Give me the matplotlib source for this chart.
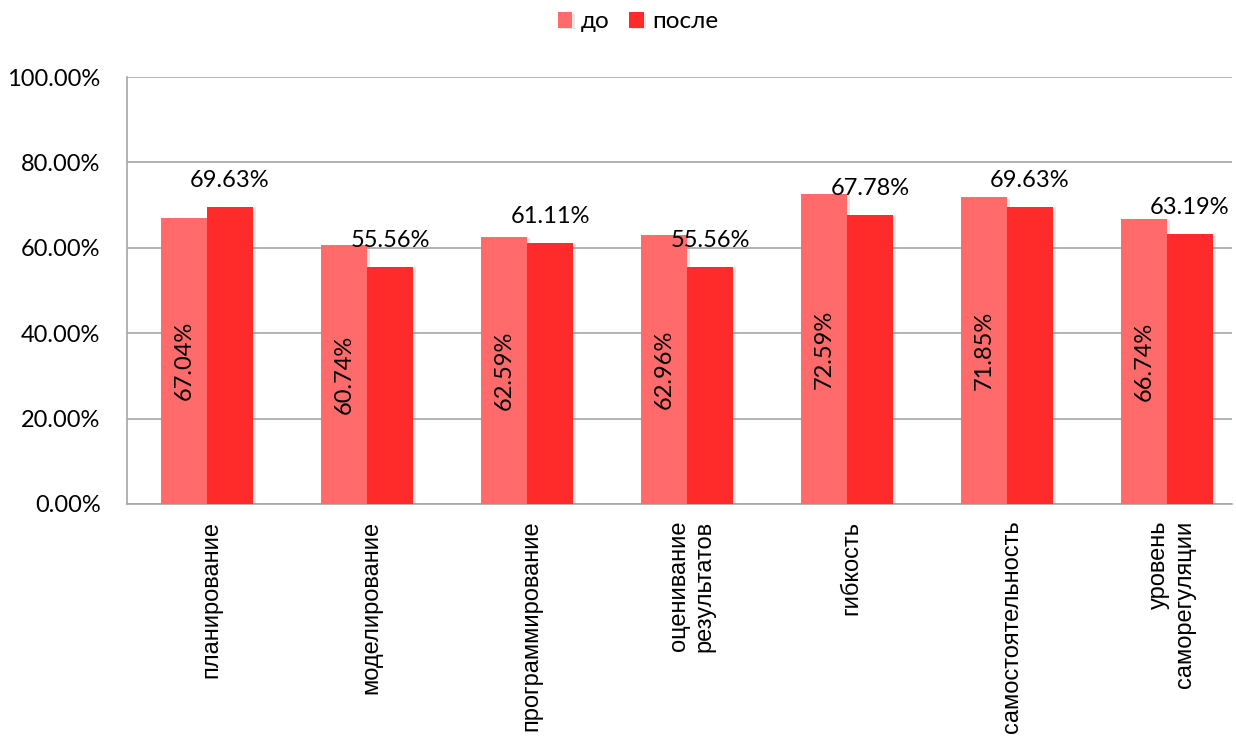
import matplotlib
matplotlib.use("Agg")
import matplotlib.pyplot as plt
import matplotlib.patheffects as pe
import numpy as np

categories = ["планирование", "моделирование", "программирование",
              "оценивание\nрезультатов", "гибкость", "самостоятельность",
              "уровень\nсаморегуляции"]
before = [67.04, 60.74, 62.59, 62.96, 72.59, 71.85, 66.74]
after = [69.63, 55.56, 61.11, 55.56, 67.78, 69.63, 63.19]
series_names = ["до", "после"]
yticks = [0, 20, 40, 60, 80, 100]

c_before = "#FF6B6B"
c_after = "#FF2A2A"
FONT = "Lato"
FS = 17

W, H = 1236, 745
fig = plt.figure(figsize=(W / 100, H / 100), dpi=100)
ax = fig.add_axes([127 / W, 1 - 504 / H, (1232 - 127) / W, (504 - 77) / H])

x = np.arange(len(categories))
bw = 46 / 160
shadow = [pe.SimplePatchShadow(offset=(2, -1), alpha=0.2, shadow_rgbFace="gray"), pe.Normal()]
b1 = ax.bar(x - bw / 2, before, bw, color=c_before, label=series_names[0], zorder=3,
            path_effects=shadow)
b2 = ax.bar(x + bw / 2, after, bw, color=c_after, label=series_names[1], zorder=3,
            path_effects=shadow)

ax.set_ylim(0, 100)
ax.set_xlim(-0.5, 6.5 - 15 / 160)
ax.set_yticks(yticks)
ax.set_yticklabels([f"{v:.2f}%" for v in yticks], fontsize=FS, family=FONT)
ax.yaxis.grid(True, color="#A6A6A6", linewidth=1.2, zorder=0)
ax.set_axisbelow(True)
ax.tick_params(axis="y", length=0, pad=19)
ax.tick_params(axis="x", length=0, pad=12)
for s in ["top", "right"]:
    ax.spines[s].set_visible(False)
for s in ["left", "bottom"]:
    ax.spines[s].set_color("#A6A6A6")
    ax.spines[s].set_linewidth(1.2)

ax.set_xticks(x + 0.03)
ax.set_xticklabels(categories, rotation=90, va="top", ha="center",
                   multialignment="right", fontsize=17, family="Liberation Sans")

for xi, v in zip(x, before):
    ax.text(xi - bw / 2, v / 2, f"{v:.2f}%", rotation=90, ha="center", va="center",
            fontsize=FS, family=FONT, zorder=5)
for xi, v in zip(x, after):
    ax.annotate(f"{v:.2f}%", (xi + bw / 2, v), xytext=(0, 19), textcoords="offset points",
                ha="center", va="center", fontsize=FS, family=FONT, zorder=5)

fig.legend(handles=[b1, b2], labels=series_names, loc="center", bbox_to_anchor=(638 / W, 1 - 22 / H),
           ncol=2, frameon=False, prop={"family": FONT, "size": 17.5}, handlelength=0.6,
           handleheight=0.6, handletextpad=0.35, columnspacing=0.8)

fig.savefig("out.png", dpi=100)
